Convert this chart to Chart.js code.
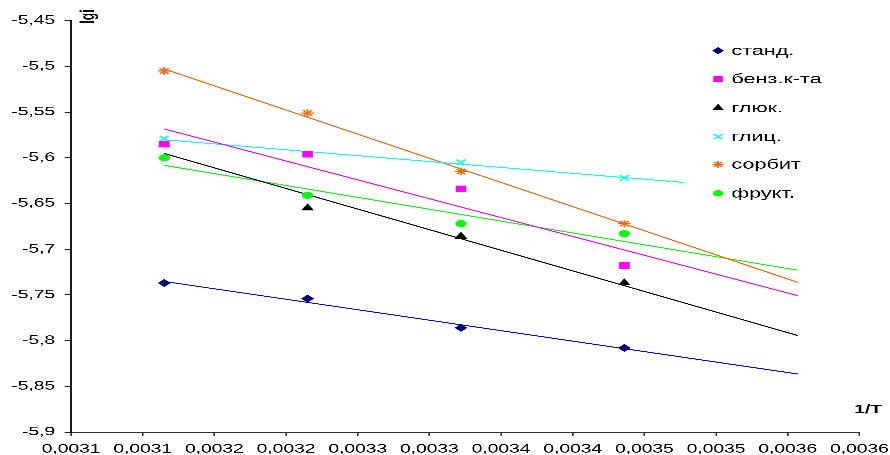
<!DOCTYPE html>
<html>
<head>
<meta charset="utf-8">
<script src="https://cdn.jsdelivr.net/npm/chart.js@4.4.1/dist/chart.umd.min.js"></script>
<style>
  html, body { margin: 0; padding: 0; background: #fff; overflow: hidden; }
  #wrap { position: absolute; left: 0; top: 0; width: 556px; height: 455px; transform: scaleX(1.6007); transform-origin: 0 0; }
  #c { display: block; width: 556px; height: 455px; }
</style>
</head>
<body>
<div id="wrap"><canvas id="c" width="556" height="455"></canvas></div>
<script>
// ---- data ----
const xValues = [0.003165, 0.003265, 0.003372, 0.003486];
const seriesNames = ['станд.', 'бенз.к-та', 'глюк.', 'глиц.', 'сорбит', 'фрукт.'];
const standValues = [-5.737, -5.754, -5.786, -5.808];
const benzValues  = [-5.585, -5.596, -5.634, -5.718];
const glucValues  = [-5.586, -5.655, -5.686, -5.737];
const glycValues  = [-5.579, -5.596, -5.605, -5.622];
const sorbValues  = [-5.505, -5.551, -5.615, -5.672];
const fructValues = [-5.600, -5.641, -5.672, -5.683];
const trendEndX   = [0.003607, 0.003607, 0.003607, 0.003528, 0.003607, 0.003607];
const xTickValues = [0.0031, 0.00315, 0.0032, 0.00325, 0.0033, 0.00335, 0.0034, 0.00345, 0.0035, 0.00355, 0.0036, 0.00365];
const xTickLabels = ['0,0031', '0,0031', '0,0032', '0,0032', '0,0033', '0,0033', '0,0034', '0,0034', '0,0035', '0,0035', '0,0036', '0,0036'];
const yMin = -5.9, yMax = -5.45, yStep = 0.05;
const yAxisTitle = 'lgi';
const xAxisTitle = '1/T';

// ---- styles ----
const allValues = [standValues, benzValues, glucValues, glycValues, sorbValues, fructValues];
const markerStyles = [
  { pointStyle: 'rectRot',  color: '#000080', radius: 4,   border: 0 },
  { pointStyle: 'rect',     color: '#FF00FF', radius: 4.7, border: 0 },
  { pointStyle: 'triangle', color: '#000000', radius: 4.7, border: 0 },
  { pointStyle: 'crossRot', color: '#00FFFF', radius: 4,   border: 1.2 },
  { pointStyle: 'star',     color: '#FF6600', radius: 3.9, border: 1.1 },
  { pointStyle: 'circle',   color: '#00FF00', radius: 3.5, border: 0 }
];
const lineColors = ['#0000FF', '#FF00FF', '#000000', '#00FFFF', '#FF6600', '#00FF00'];

function regression(xs, ys) {
  const n = xs.length;
  const mx = xs.reduce((a, b) => a + b, 0) / n;
  const my = ys.reduce((a, b) => a + b, 0) / n;
  let sxy = 0, sxx = 0;
  for (let i = 0; i < n; i++) { sxy += (xs[i] - mx) * (ys[i] - my); sxx += (xs[i] - mx) * (xs[i] - mx); }
  const b = sxy / sxx;
  return { b: b, a: my - b * mx };
}

const datasets = [];
allValues.forEach((vals, i) => {
  const m = markerStyles[i];
  datasets.push({
    label: seriesNames[i],
    data: vals.map((v, j) => ({ x: xValues[j], y: v })),
    showLine: false,
    pointStyle: m.pointStyle,
    pointRadius: m.radius,
    pointHoverRadius: m.radius,
    backgroundColor: m.color,
    borderColor: m.color,
    pointBorderWidth: m.border,
    order: 0
  });
});
allValues.forEach((vals, i) => {
  const r = regression(xValues, vals);
  const x0 = xValues[0], x1 = trendEndX[i];
  datasets.push({
    label: seriesNames[i] + ' trend',
    data: [{ x: x0, y: r.a + r.b * x0 }, { x: x1, y: r.a + r.b * x1 }],
    showLine: true,
    borderColor: lineColors[i],
    borderWidth: 1,
    pointRadius: 0,
    pointHoverRadius: 0,
    fill: false,
    order: 1
  });
});

function fallbackPoint(ctx, m, x, y) {
  ctx.fillStyle = m.color; ctx.strokeStyle = m.color; ctx.lineWidth = m.border || 1;
  ctx.beginPath(); ctx.arc(x, y, m.radius, 0, Math.PI * 2); ctx.fill();
}

const overlayPlugin = {
  id: 'overlay',
  afterDraw(chart) {
    const ctx = chart.ctx;
    ctx.save();
    // axis titles
    ctx.fillStyle = '#000';
    ctx.font = 'bold 12px "Liberation Sans", Arial, sans-serif';
    ctx.textAlign = 'center';
    ctx.textBaseline = 'middle';
    ctx.save();
    ctx.translate(55.5, 16.5);
    ctx.rotate(-Math.PI / 2);
    ctx.fillText(yAxisTitle, 0, 0);
    ctx.restore();
    ctx.textAlign = 'right';
    ctx.fillText(xAxisTitle, 551, 410);
    // legend
    const rows = [50.7, 79, 108, 136.7, 164.3, 193.3];
    ctx.font = '13.5px "Liberation Sans", Arial, sans-serif';
    ctx.textAlign = 'left';
    seriesNames.forEach((name, i) => {
      const m = markerStyles[i];
      const y = rows[i];
      if (Chart.helpers && Chart.helpers.drawPoint) {
        ctx.fillStyle = m.color; ctx.strokeStyle = m.color; ctx.lineWidth = m.border;
        Chart.helpers.drawPoint(ctx, { pointStyle: m.pointStyle, radius: m.radius * 0.9, rotation: 0, borderWidth: m.border }, 448.6, y);
      } else {
        fallbackPoint(ctx, m, 448.6, y);
      }
      ctx.fillStyle = '#000';
      ctx.fillText(name, 456.9, y + 0.5);
    });
    ctx.restore();
  }
};

new Chart(document.getElementById('c'), {
  type: 'scatter',
  data: { datasets: datasets },
  options: {
    responsive: false,
    maintainAspectRatio: false,
    devicePixelRatio: 3,
    animation: false,
    events: [],
    layout: { padding: { top: 20.7, right: 19.1, left: 0, bottom: 0 } },
    plugins: { legend: { display: false }, tooltip: { enabled: false }, title: { display: false } },
    scales: {
      x: {
        type: 'linear',
        min: xTickValues[0],
        max: xTickValues[xTickValues.length - 1],
        afterBuildTicks: (scale) => { scale.ticks = xTickValues.map(v => ({ value: v })); },
        afterFit: (scale) => { scale.height = 23; scale.paddingLeft = 0; scale.paddingRight = 0; },
        ticks: {
          autoSkip: false, maxRotation: 0, minRotation: 0, padding: 6,
          color: '#000',
          font: { family: '"Liberation Sans", Arial, sans-serif', size: 12 },
          callback: (v, i) => xTickLabels[i]
        },
        grid: { display: true, drawOnChartArea: false, drawTicks: true, tickLength: 4, tickColor: '#333', tickWidth: 1 },
        border: { display: true, color: '#333', width: 1 }
      },
      y: {
        type: 'linear',
        min: yMin,
        max: yMax,
        afterFit: (scale) => { scale.width = 44.4; scale.paddingTop = 0; scale.paddingBottom = 0; },
        ticks: {
          stepSize: yStep, padding: 6, color: '#000',
          font: { family: '"Liberation Sans", Arial, sans-serif', size: 12 },
          callback: (v) => Number(v.toFixed(2)).toString().replace('.', ',')
        },
        grid: { display: true, drawOnChartArea: false, drawTicks: true, tickLength: 4, tickColor: '#222', tickWidth: 1 },
        border: { display: true, color: '#111', width: 1.3 }
      }
    }
  },
  plugins: [overlayPlugin]
});
</script>
</body>
</html>
